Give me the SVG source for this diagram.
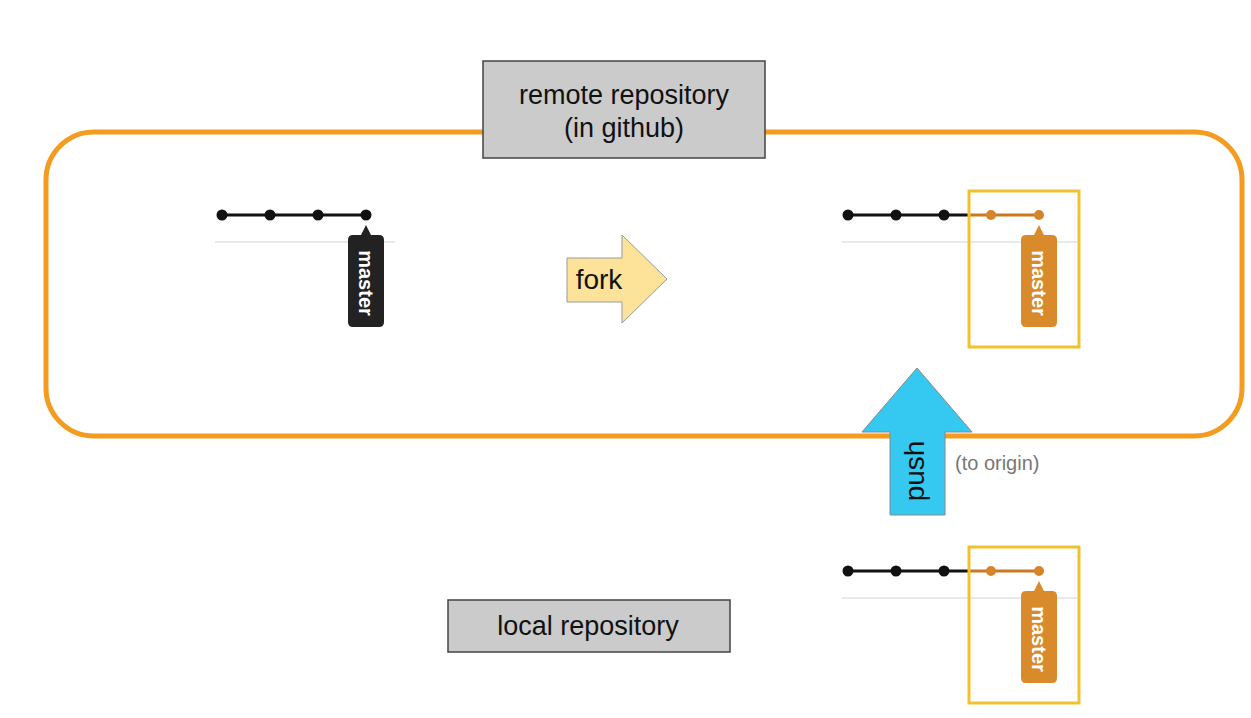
<svg xmlns="http://www.w3.org/2000/svg" width="1251" height="718" viewBox="0 0 1251 718">
<style>
.label{font-family:"Liberation Sans",Arial,sans-serif;fill:#111;text-anchor:middle;dominant-baseline:central}
.box{fill:#cbcbcb;stroke:#444;stroke-width:1.5}
.tagtxt{font-family:"Liberation Sans",Arial,sans-serif;font-weight:bold;font-size:20px;fill:#fff;text-anchor:middle;dominant-baseline:central}
.base{stroke:#e2e2e2;stroke-width:1.5}
.bl{stroke:#111;stroke-width:3}
.ol{stroke:#c97a1e;stroke-width:3}
.bd{fill:#111}
.od{fill:#d4842a}
.sel{fill:none;stroke:#f2c12e;stroke-width:3}
</style>
<defs>
<path id="tag" d="M-18,25 Q-18,20 -13,20 L-5,20 L0,10 L5,20 L13,20 Q18,20 18,25 L18,107 Q18,112 13,112 L-13,112 Q-18,112 -18,107 Z"/>
</defs>
<rect width="1251" height="718" fill="#fff"/>
<g id="remote-container">
<rect x="46" y="132" width="1196" height="304" rx="48" ry="48" fill="none" stroke="#f39c1f" stroke-width="5"/>
</g>
<g id="remote-label">
<rect class="box" x="483" y="61" width="282" height="97"/>
<text class="label" x="624" y="95" font-size="27">remote repository</text>
<text class="label" x="624" y="128" font-size="27">(in github)</text>
</g>
<g id="local-label">
<rect class="box" x="448" y="600" width="282" height="52"/>
<text class="label" x="588" y="626" font-size="27">local repository</text>
</g>
<g id="original-history">
<line class="base" x1="215" y1="242" x2="395" y2="242"/>
<line class="bl" x1="222" y1="215" x2="366" y2="215"/>
<circle class="bd" cx="222" cy="215" r="5.5"/>
<circle class="bd" cx="270" cy="215" r="5.5"/>
<circle class="bd" cx="318" cy="215" r="5.5"/>
<circle class="bd" cx="366" cy="215" r="5.5"/>
<use href="#tag" x="366" y="215" fill="#222"/>
<text class="tagtxt" transform="translate(366,283) rotate(90)">master</text>
</g>
<g id="fork-history">
<line class="base" x1="842" y1="242" x2="1080" y2="242"/>
<line class="bl" x1="848" y1="215" x2="970" y2="215"/>
<line class="ol" x1="970" y1="215" x2="1039" y2="215"/>
<circle class="bd" cx="848" cy="215" r="5.5"/>
<circle class="bd" cx="896" cy="215" r="5.5"/>
<circle class="bd" cx="944" cy="215" r="5.5"/>
<circle class="od" cx="991" cy="215" r="5"/>
<circle class="od" cx="1039" cy="215" r="5"/>
<rect class="sel" x="969" y="191" width="110" height="156"/>
<use href="#tag" x="1039" y="215" fill="#d98a2b"/>
<text class="tagtxt" transform="translate(1039,283) rotate(90)">master</text>
</g>
<g id="local-history">
<line class="base" x1="842" y1="598" x2="1080" y2="598"/>
<line class="bl" x1="848" y1="571" x2="970" y2="571"/>
<line class="ol" x1="970" y1="571" x2="1039" y2="571"/>
<circle class="bd" cx="848" cy="571" r="5.5"/>
<circle class="bd" cx="896" cy="571" r="5.5"/>
<circle class="bd" cx="944" cy="571" r="5.5"/>
<circle class="od" cx="991" cy="571" r="5"/>
<circle class="od" cx="1039" cy="571" r="5"/>
<rect class="sel" x="969" y="547" width="110" height="156"/>
<use href="#tag" x="1039" y="571" fill="#d98a2b"/>
<text class="tagtxt" transform="translate(1039,639) rotate(90)">master</text>
</g>
<g id="connectors">
<g id="fork-arrow">
<polygon points="567,258 622,258 622,235 667,279 622,323 622,302 567,302" fill="#fde29a" stroke="#999" stroke-width="1"/>
<text class="label" x="599" y="279" font-size="28">fork</text>
</g>
<g id="push-arrow">
<polygon points="890,515 890,432 862,432 917,368 972,432 945,432 945,515" fill="#35c9f2" stroke="#888" stroke-width="1"/>
<text class="label" transform="translate(914,471) rotate(-90)" font-size="28">push</text>
<text x="955" y="463" font-family="'Liberation Sans',Arial,sans-serif" font-size="20" fill="#777" dominant-baseline="central">(to origin)</text>
</g>
</g>
</svg>
